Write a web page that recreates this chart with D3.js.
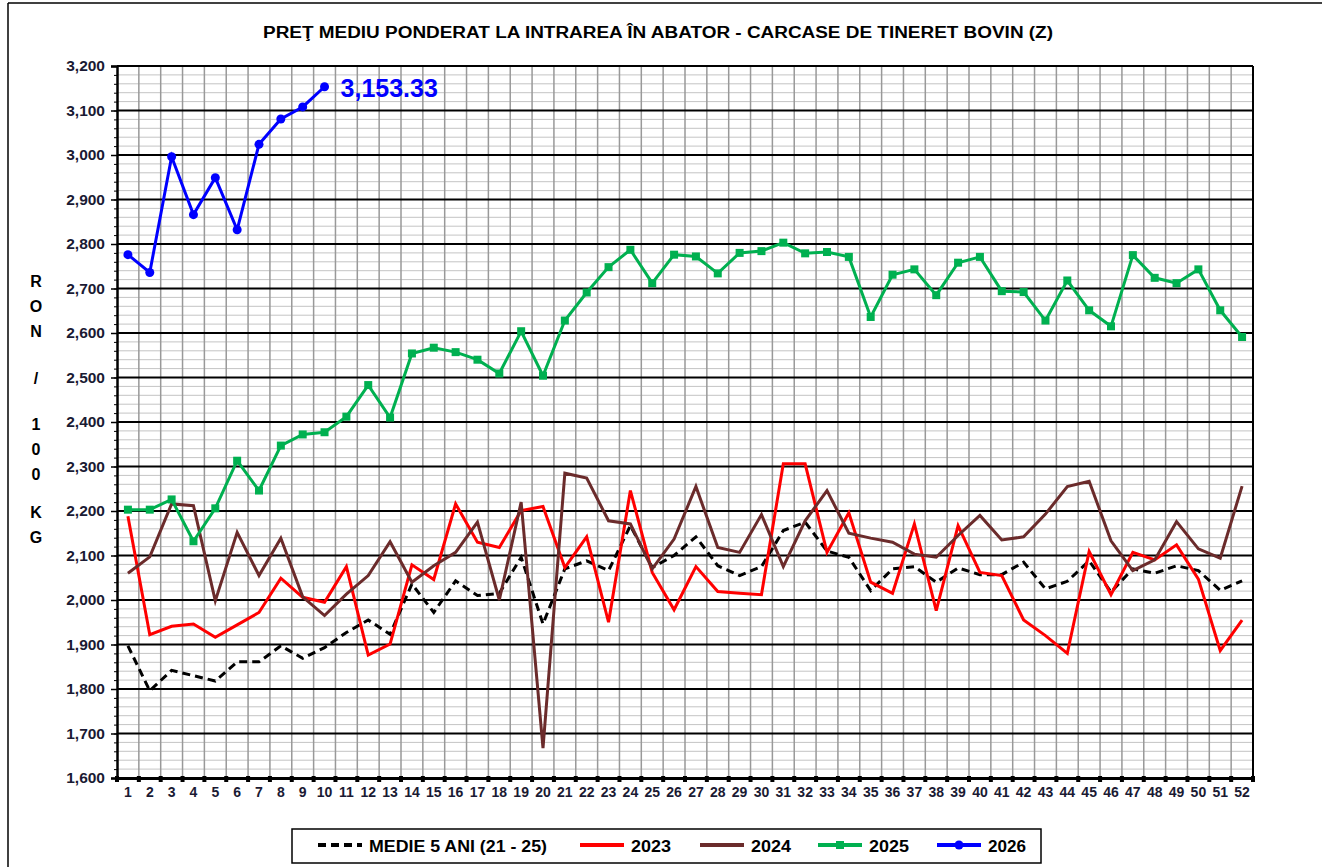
<!DOCTYPE html>
<html>
<head>
<meta charset="utf-8">
<script src="https://cdn.jsdelivr.net/npm/d3@7"></script>
<style>
  body { margin: 0; background: #fff; }
  text { font-family: Arial, "Liberation Sans", sans-serif; }
</style>
</head>
<body>
<script>
var weeks = d3.range(1, 53);
var yTicks = d3.range(1600, 3201, 100);

var medie = [1897, 1796, 1842, 1830, 1818, 1861, 1861, 1897, 1869, 1893,
  1927, 1955, 1923, 2036, 1972, 2043, 2010, 2015, 2096, 1946,
  2070, 2088, 2066, 2167, 2073, 2100, 2142, 2077, 2055, 2075,
  2156, 2175, 2110, 2096, 2021, 2070, 2075, 2040, 2072, 2057,
  2057, 2085, 2025, 2042, 2088, 2018, 2070, 2060, 2077, 2066,
  2022, 2043];
var y2023 = [2188, 1922, 1941, 1946, 1916, 1944, 1972, 2049, 2006, 1995,
  2075, 1876, 1901, 2079, 2046, 2216, 2130, 2118, 2201, 2210,
  2073, 2142, 1950, 2246, 2062, 1978, 2075, 2019, 2015, 2012,
  2306, 2306, 2107, 2196, 2040, 2015, 2171, 1976, 2167, 2062,
  2055, 1955, 1920, 1880, 2109, 2012, 2107, 2090, 2124, 2047,
  1886, 1955];
var y2024 = [2060, 2097, 2216, 2212, 1998, 2152, 2055, 2139, 2007, 1965,
  2013, 2055, 2131, 2040, 2077, 2107, 2175, 2000, 2220, 1667,
  2285, 2274, 2178, 2171, 2070, 2137, 2255, 2118, 2107, 2192,
  2075, 2178, 2246, 2150, 2139, 2130, 2103, 2096, 2145, 2190,
  2135, 2142, 2193, 2255, 2267, 2133, 2066, 2090, 2176, 2115,
  2094, 2256];
var y2025 = [2203, 2203, 2226, 2132, 2206, 2313, 2246, 2347, 2372, 2377,
  2412, 2483, 2410, 2554, 2567, 2557, 2540, 2509, 2604, 2504,
  2628, 2691, 2748, 2787, 2712, 2776, 2772, 2734, 2780, 2784,
  2803, 2779, 2782, 2771, 2636, 2731, 2743, 2685, 2758, 2771,
  2694, 2692, 2628, 2718, 2651, 2615, 2775, 2724, 2712, 2743,
  2651, 2591];
var y2026 = [2776, 2736, 2996, 2866, 2949, 2832, 3024, 3081, 3108, 3153.33];

var series = [
  { name: "MEDIE 5 ANI (21 - 25)", values: medie, color: "#000", width: 3, dash: "8,5", marker: null },
  { name: "2023", values: y2023, color: "#ff0000", width: 3, dash: null, marker: null },
  { name: "2024", values: y2024, color: "#6b2b2b", width: 3, dash: null, marker: null },
  { name: "2025", values: y2025, color: "#00b050", width: 3, dash: null, marker: "square" },
  { name: "2026", values: y2026, color: "#0000ff", width: 3, dash: null, marker: "circle" }
];

var w = 1322, h = 867;
var plotL = 117, plotR = 1253, plotT = 66, plotB = 778;

var svg = d3.select("body").append("svg")
  .attr("width", w)
  .attr("height", h);

// outer frame (top + left only)
svg.append("line").attr("x1", 8).attr("x2", w).attr("y1", 3).attr("y2", 3)
  .attr("stroke", "#000").attr("stroke-width", 1.5);
svg.append("line").attr("x1", 8).attr("x2", 8).attr("y1", 3).attr("y2", h)
  .attr("stroke", "#000").attr("stroke-width", 1.5);

var x = d3.scaleBand()
  .domain(weeks)
  .range([plotL, plotR]);

var y = d3.scaleLinear()
  .domain([1600, 3200])
  .range([plotB, plotT]);

svg.append("text")
  .attr("x", 263).attr("y", 38)
  .attr("textLength", 790)
  .attr("lengthAdjust", "spacingAndGlyphs")
  .style("font-size", "16px")
  .style("font-weight", "bold")
  .text("PREŢ MEDIU PONDERAT LA INTRAREA  ÎN ABATOR  - CARCASE  DE TINERET BOVIN (Z)");

// minor horizontal grid
svg.append("g").selectAll("line")
  .data(d3.range(1620, 3200, 20).filter(function (d) { return d % 100 !== 0; }))
  .enter().append("line")
  .attr("x1", plotL).attr("x2", plotR)
  .attr("y1", function (d) { return y(d); })
  .attr("y2", function (d) { return y(d); })
  .attr("stroke", "#c4c4c4").attr("stroke-width", 1);

// vertical grid at band boundaries
svg.append("g").selectAll("line")
  .data(weeks.slice(1))
  .enter().append("line")
  .attr("x1", function (d) { return x(d); })
  .attr("x2", function (d) { return x(d); })
  .attr("y1", plotT).attr("y2", plotB)
  .attr("stroke", "#999").attr("stroke-width", 1.5);

// major horizontal grid
svg.append("g").selectAll("line")
  .data(yTicks)
  .enter().append("line")
  .attr("x1", plotL).attr("x2", plotR)
  .attr("y1", function (d) { return y(d); })
  .attr("y2", function (d) { return y(d); })
  .attr("stroke", "#000").attr("stroke-width", 2);

// right border
svg.append("line").attr("x1", plotR).attr("x2", plotR).attr("y1", plotT).attr("y2", plotB)
  .attr("stroke", "#000").attr("stroke-width", 2);

// y axis
var yAxis = svg.append("g")
  .attr("transform", "translate(" + plotL + ",0)")
  .call(d3.axisLeft(y).tickValues(yTicks).tickFormat(d3.format(",")).tickSize(6).tickPadding(6));
yAxis.attr("font-size", 15.5);
yAxis.select(".domain").attr("stroke-width", 2.5);
yAxis.selectAll(".tick line").attr("stroke-width", 1.5);
yAxis.selectAll("text")
  .style("font-weight", "bold")
  .attr("fill", "#1a1a33");

svg.append("g")
  .attr("transform", "translate(" + plotL + ",0)")
  .call(d3.axisLeft(y).tickValues(d3.range(1620, 3200, 20)).tickFormat("").tickSize(3))
  .select(".domain").remove();

// x axis
var xAxis = svg.append("g")
  .attr("transform", "translate(0," + plotB + ")")
  .call(d3.axisBottom(x).tickSize(0).tickPadding(9));
xAxis.attr("font-size", 14);
xAxis.select(".domain").attr("stroke-width", 3);
xAxis.selectAll("text")
  .style("font-weight", "bold")
  .attr("fill", "#1a1a33");
svg.append("g").selectAll("rect")
  .data(weeks.concat([53]))
  .enter().append("rect")
  .attr("x", function (d) { return (d === 53 ? plotR : x(d)) - 2; })
  .attr("y", plotB - 2)
  .attr("width", 4).attr("height", 6)
  .attr("fill", "#000");

// y axis title, stacked letters
var yTitle = [["R", 287], ["O", 312], ["N", 337], ["/", 384], ["1", 430], ["0", 455], ["0", 480], ["K", 518], ["G", 543]];
svg.append("g").selectAll("text")
  .data(yTitle)
  .enter().append("text")
  .attr("x", 36)
  .attr("y", function (d) { return d[1]; })
  .attr("text-anchor", "middle")
  .style("font-size", "16px")
  .style("font-weight", "bold")
  .text(function (d) { return d[0]; });

var line = d3.line()
  .x(function (d, i) { return x(weeks[i]) + x.bandwidth() / 2; })
  .y(function (d) { return y(d); });

series.forEach(function (s) {
  svg.append("path")
    .datum(s.values)
    .attr("d", line)
    .attr("fill", "none")
    .attr("stroke", s.color)
    .attr("stroke-width", s.width)
    .attr("stroke-dasharray", s.dash)
    .attr("stroke-linejoin", "miter");
  if (s.marker === "square") {
    svg.append("g").selectAll("rect")
      .data(s.values)
      .enter().append("rect")
      .attr("x", function (d, i) { return x(weeks[i]) + x.bandwidth() / 2 - 4; })
      .attr("y", function (d) { return y(d) - 4; })
      .attr("width", 8).attr("height", 8)
      .attr("fill", s.color);
  } else if (s.marker === "circle") {
    svg.append("g").selectAll("circle")
      .data(s.values)
      .enter().append("circle")
      .attr("cx", function (d, i) { return x(weeks[i]) + x.bandwidth() / 2; })
      .attr("cy", function (d) { return y(d); })
      .attr("r", 4.5)
      .attr("fill", s.color);
  }
});

// last value label for 2026
var lastIdx = y2026.length - 1;
svg.append("text")
  .attr("x", x(weeks[lastIdx]) + x.bandwidth() / 2 + 16)
  .attr("y", y(y2026[lastIdx]) + 10)
  .attr("fill", "#0000ff")
  .style("font-size", "25px")
  .style("font-weight", "bold")
  .text(d3.format(",.2f")(y2026[lastIdx]));

// legend
var legend = svg.append("g");
legend.append("rect")
  .attr("x", 292).attr("y", 829)
  .attr("width", 749).attr("height", 34)
  .attr("fill", "#fff").attr("stroke", "#000").attr("stroke-width", 1.5);

var legendX = [318, 580, 700, 818, 937];
var legendW = [178, 40, 40, 40, 38];
series.forEach(function (s, i) {
  var lx = legendX[i];
  legend.append("line")
    .attr("x1", lx).attr("x2", lx + 44)
    .attr("y1", 845).attr("y2", 845)
    .attr("stroke", s.color).attr("stroke-width", 4)
    .attr("stroke-dasharray", s.dash);
  if (s.marker === "square") {
    legend.append("rect").attr("x", lx + 18).attr("y", 841).attr("width", 8).attr("height", 8).attr("fill", s.color);
  } else if (s.marker === "circle") {
    legend.append("circle").attr("cx", lx + 22).attr("cy", 845).attr("r", 4.5).attr("fill", s.color);
  }
  legend.append("text")
    .attr("x", lx + 51).attr("y", 852)
    .attr("textLength", legendW[i])
    .attr("lengthAdjust", "spacingAndGlyphs")
    .style("font-size", "17px")
    .style("font-weight", "bold")
    .text(s.name);
});
</script>
</body>
</html>
